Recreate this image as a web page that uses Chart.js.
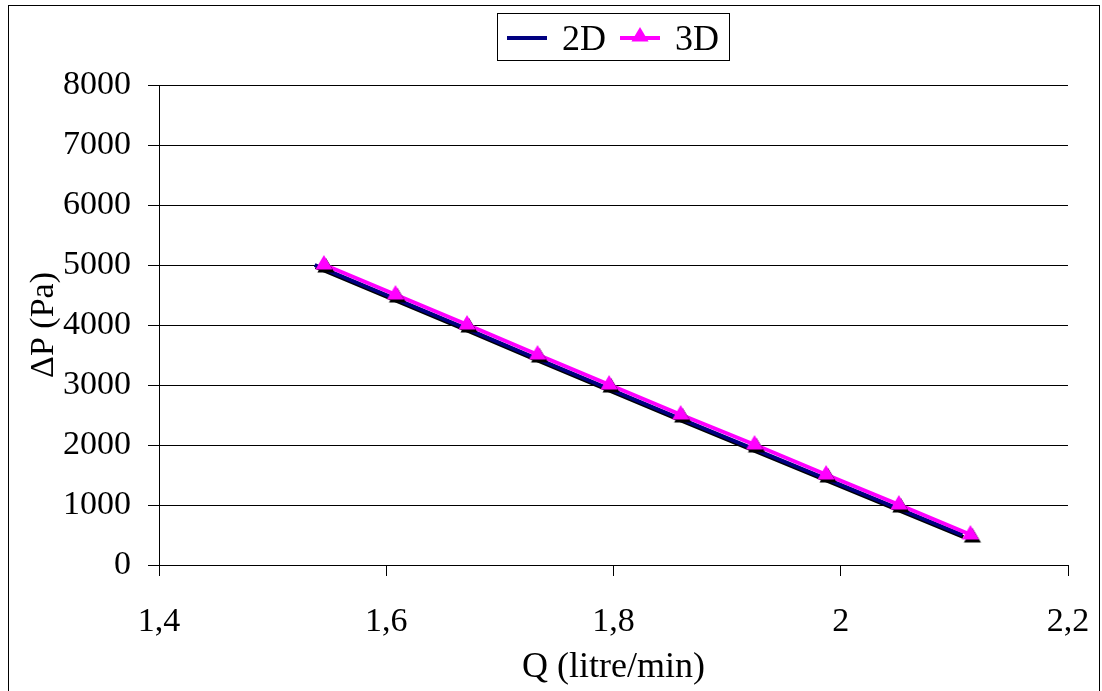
<!DOCTYPE html>
<html>
<head>
<meta charset="utf-8">
<script src="https://cdn.jsdelivr.net/npm/chart.js@4.4.1/dist/chart.umd.min.js"></script>
<style>
    html, body { margin: 0; padding: 0; background: #fff; }
    #wrap { position: relative; width: 1102px; height: 691px; }
</style>
</head>
<body>
<div id="wrap"><canvas id="chart" width="1102" height="691"></canvas></div>
<script>
// --- Data ---
const pressure = [5000, 4500, 4000, 3500, 3000, 2500, 2000, 1500, 1000, 500];
const flow2D = [1.537, 1.600, 1.663, 1.725, 1.788, 1.851, 1.915, 1.979, 2.043, 2.107];
const flow3D = [1.546, 1.609, 1.672, 1.734, 1.797, 1.860, 1.925, 1.988, 2.052, 2.115];
const xTicks = [1.4, 1.6, 1.8, 2.0, 2.2];
const yTicks = [0, 1000, 2000, 3000, 4000, 5000, 6000, 7000, 8000];

const serif = "'Liberation Serif', 'Times New Roman', serif";
const fmtComma = v => String(Math.round(v * 10) / 10).replace('.', ',');

// magenta triangle marker with a black drop shadow (Excel style)
function makeMarker(color, r, shadow) {
    const c = document.createElement('canvas');
    c.width = 2 * r + 8;
    c.height = 2 * r + 8;
    const g = c.getContext('2d');
    const tri = (cx, cy, fill) => {
        g.fillStyle = fill;
        g.beginPath();
        g.moveTo(cx, cy - r);
        g.lineTo(cx + r * 0.95, cy + r * 0.6);
        g.lineTo(cx - r * 0.95, cy + r * 0.6);
        g.closePath();
        g.fill();
    };
    const cx = c.width / 2 - 1, cy = c.height / 2 - 1;
    if (shadow) tri(cx + 2, cy + 3, '#000');
    tri(cx, cy, color);
    return c;
}
const triMarker = makeMarker('#ff00ff', 9, true);
const triLegend = makeMarker('#ff00ff', 9, false);

// 2D line start gets a small shadow too
const shadowPlugin = {
    id: 'shadow',
    beforeDatasetDraw(chart, args) {
        if (args.index !== 0) return;
        const ctx = chart.ctx;
        ctx.save();
        ctx.shadowColor = '#000';
        ctx.shadowOffsetX = 1;
        ctx.shadowOffsetY = 2;
        ctx.shadowBlur = 0;
    },
    afterDatasetDraw(chart, args) {
        if (args.index !== 0) return;
        chart.ctx.restore();
    }
};

// frame and boxed legend
const framePlugin = {
    id: 'frame',
    afterDraw(chart) {
        const ctx = chart.ctx;
        ctx.save();
        ctx.strokeStyle = '#000';
        ctx.lineWidth = 1;
        ctx.strokeRect(8.5, 5.5, 1091, 700);

        // legend
        ctx.strokeRect(497.5, 13.5, 232, 47);
        const ly = 38;
        let x = 507;
        ctx.font = '36px ' + serif;
        ctx.textBaseline = 'middle';
        chart.data.datasets.forEach(ds => {
            ctx.strokeStyle = ds.borderColor;
            ctx.lineWidth = 4;
            ctx.beginPath();
            ctx.moveTo(x, ly);
            ctx.lineTo(x + 40, ly);
            ctx.stroke();
            if (ds.pointRadius > 0) {
                ctx.drawImage(triLegend, x + 20 - triLegend.width / 2 + 1, ly - triLegend.height / 2 - 1);
            }
            ctx.fillStyle = '#000';
            ctx.fillText(ds.label, x + 55, ly + 3);
            x += 113;
        });
        ctx.restore();
    }
};

const ctx = document.getElementById('chart').getContext('2d');
new Chart(ctx, {
    type: 'line',
    data: {
        datasets: [
            {
                label: '2D',
                data: pressure.map((p, i) => ({ x: flow2D[i], y: p })),
                borderColor: '#000080',
                backgroundColor: '#000080',
                borderWidth: 4,
                pointRadius: 0,
                tension: 0,
                order: 1
            },
            {
                label: '3D',
                data: pressure.map((p, i) => ({ x: flow3D[i], y: p })),
                borderColor: '#ff00ff',
                backgroundColor: '#ff00ff',
                pointBackgroundColor: '#ff00ff',
                pointBorderColor: '#ff00ff',
                pointStyle: triMarker,
                pointRadius: 9,
                borderWidth: 4,
                tension: 0,
                order: 0
            }
        ]
    },
    options: {
        responsive: false,
        animation: false,
        layout: { padding: { left: 24, right: 34, top: 85, bottom: 2 } },
        plugins: {
            legend: { display: false },
            tooltip: { enabled: false }
        },
        scales: {
            x: {
                type: 'linear',
                min: xTicks[0],
                max: xTicks[xTicks.length - 1],
                afterBuildTicks: s => { s.ticks = xTicks.map(v => ({ value: v })); },
                afterFit: s => {
                    s.height = 691 - 2 - 565;
                    s.paddingLeft = 0;
                    s.paddingRight = 0;
                },
                border: { color: '#000', width: 1 },
                grid: { drawOnChartArea: false, drawTicks: true, tickLength: 11, color: '#000' },
                ticks: {
                    color: '#000',
                    font: { family: serif, size: 34 },
                    padding: 26,
                    maxRotation: 0,
                    callback: v => fmtComma(v)
                },
                title: {
                    display: true,
                    text: 'Q (litre/min)',
                    color: '#000',
                    font: { family: serif, size: 36 },
                    padding: { top: 0, bottom: 0 }
                }
            },
            y: {
                min: yTicks[0],
                max: yTicks[yTicks.length - 1],
                afterBuildTicks: s => { s.ticks = yTicks.map(v => ({ value: v })); },
                afterFit: s => { s.width = 159 - 24; },
                border: { color: '#000', width: 1 },
                grid: { color: '#000', lineWidth: 1, tickLength: 11 },
                ticks: {
                    color: '#000',
                    font: { family: serif, size: 34 },
                    padding: 17,
                    callback: v => String(v)
                },
                title: {
                    display: true,
                    text: 'ΔP (Pa)',
                    color: '#000',
                    font: { family: serif, size: 34 },
                    padding: { top: 0, bottom: 0 }
                }
            }
        }
    },
    plugins: [shadowPlugin, framePlugin]
});
</script>
</body>
</html>
